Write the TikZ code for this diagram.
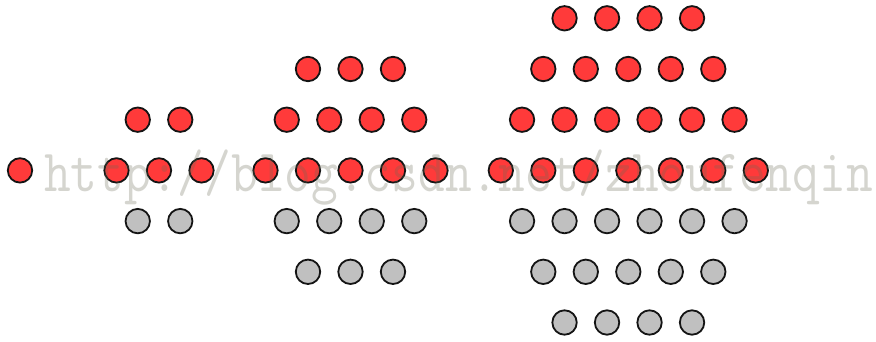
\documentclass[tikz,border=0pt]{standalone}
\usepackage{fontspec}
\usepackage{graphicx}
\definecolor{dotred}{RGB}{255,58,58}
\definecolor{dotgray}{RGB}{192,192,192}
\definecolor{dotline}{RGB}{20,20,20}
\definecolor{wm}{RGB}{105,105,85}
\begin{document}
\begin{tikzpicture}[x=1pt,y=-1pt,
  dot/.style={circle, draw=dotline, line width=1.8pt, minimum size=24.4pt, inner sep=0pt},
  watermark/.style={anchor=base west, inner sep=0pt, text=wm, text opacity=0.28,
    font=\fontsize{60}{60}\selectfont\ttfamily}]
\useasboundingbox (0,0) rectangle (876,342);
\fill[white] (0,0) rectangle (876,342);
\foreach \n/\cx in {1/20, 2/159, 3/350.5, 4/628.3}{
  \pgfmathtruncatemacro\m{2*\n-1}
  \foreach \k in {1,...,\m}{
    \pgfmathtruncatemacro\cnt{\m-abs(\k-\n)}
    \pgfmathsetmacro\yy{170.4+(\k-\n)*50.7}
    \ifnum\k>\n \def\fc{dotgray}\else\def\fc{dotred}\fi
    \foreach \j in {1,...,\cnt}{
      \pgfmathsetmacro\xx{\cx+(\j-(\cnt+1)/2)*42.5}
      \node[dot, fill=\fc] (g\n r\k c\j) at (\xx,\yy) {};
    }
  }
}
\node[watermark] (wmark) at (44,192) {\scalebox{0.865}[1]{http://blog.csdn.net/zhoufenqin}};
\end{tikzpicture}
\end{document}
